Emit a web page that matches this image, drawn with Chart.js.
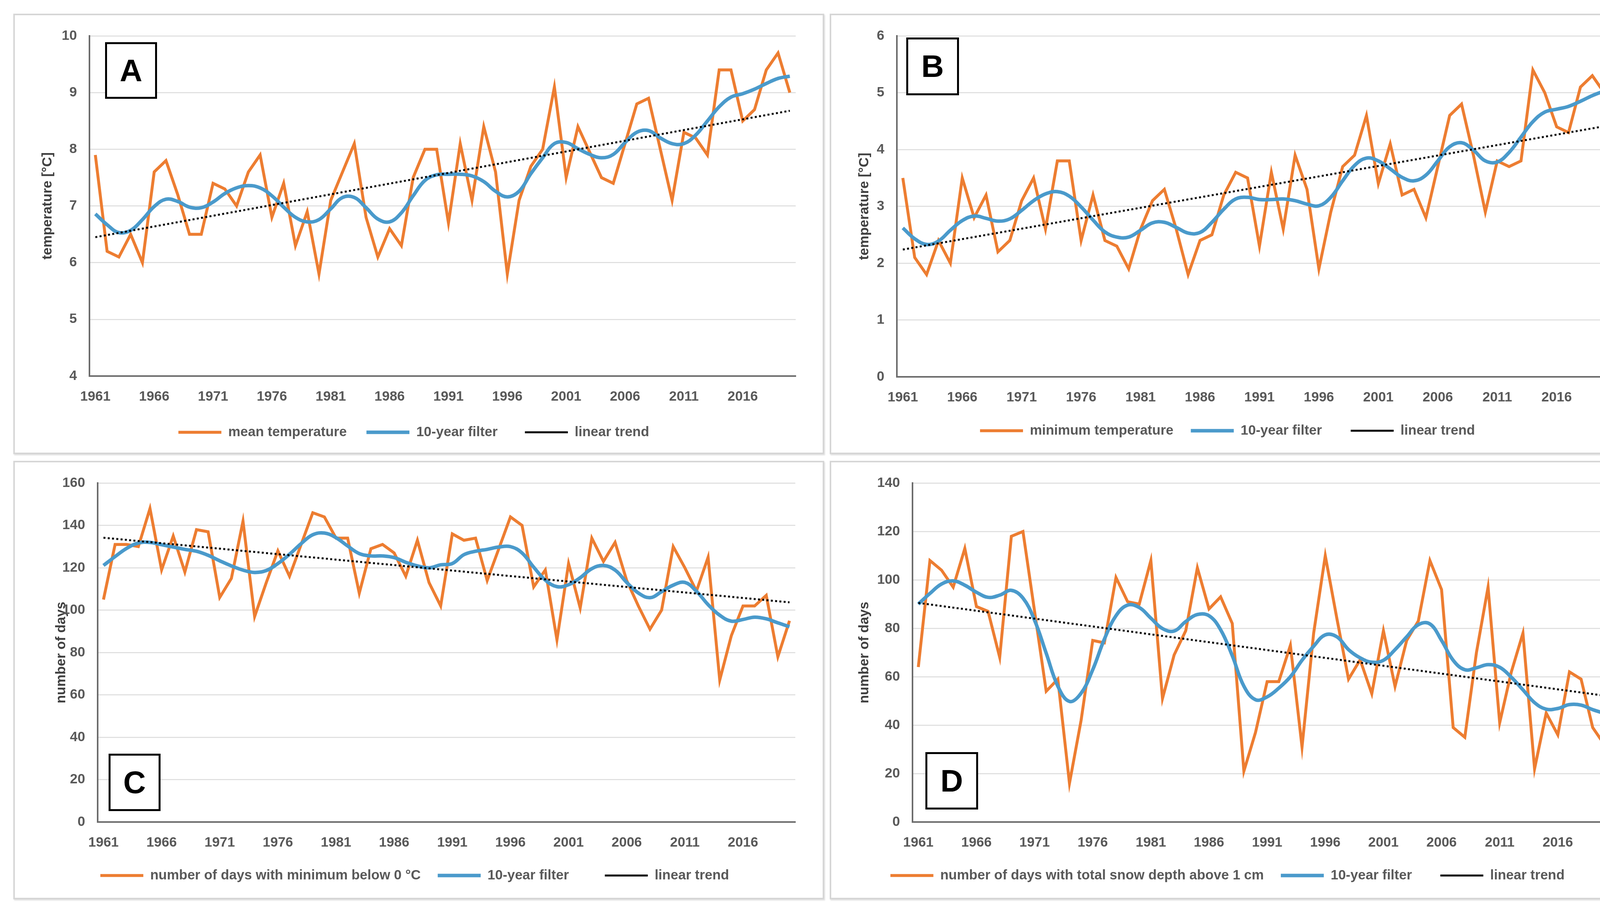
<!DOCTYPE html>
<html>
<head>
<meta charset="utf-8">
<script src="https://cdn.jsdelivr.net/npm/chart.js@4.4.1/dist/chart.umd.min.js"></script>
<style>
  html, body { margin: 0; padding: 0; background: #fff; overflow: hidden; }
  #page { position: relative; width: 4228px; height: 2338px; background: #fff; }
  .panel { position: absolute; box-sizing: border-box; border: 4px solid #d6d6d6; box-shadow: 2px 3px 3px rgba(0,0,0,0.12); }
  .panel canvas { position: absolute; left: 0; top: 0; }
  .tag { position: absolute; box-sizing: border-box; border: 5px solid #000; background: #fff;
         font: bold 80px "Liberation Sans", Arial, sans-serif; color: #000;
         display: flex; align-items: center; justify-content: center; z-index: 2; }
</style>
</head>
<body>
<div id="page"></div>
<script>
// categories and tick labels
const years = Array.from({ length: 60 }, (_, i) => String(1961 + i));
const shownYears = ['1961', '1966', '1971', '1976', '1981', '1986', '1991', '1996', '2001', '2006', '2011', '2016'];

// A - mean temperature
const meanTemp = [7.9, 6.2, 6.1, 6.5, 6.0, 7.6, 7.8, 7.2, 6.5, 6.5,
                  7.4, 7.3, 7.0, 7.6, 7.9, 6.8, 7.4, 6.3, 6.9, 5.8,
                  7.1, 7.6, 8.1, 6.8, 6.1, 6.6, 6.3, 7.5, 8.0, 8.0,
                  6.7, 8.1, 7.1, 8.4, 7.6, 5.8, 7.1, 7.7, 8.0, 9.1,
                  7.5, 8.4, 7.95, 7.5, 7.4, 8.1, 8.8, 8.9, 8.0, 7.1,
                  8.3, 8.2, 7.9, 9.4, 9.4, 8.5, 8.7, 9.4, 9.7, 9.0];
const filterA = [6.86, 6.67, 6.53, 6.57, 6.76, 6.99, 7.12, 7.08, 6.98, 6.97,
                 7.07, 7.22, 7.32, 7.36, 7.32, 7.18, 6.98, 6.80, 6.72, 6.76,
                 6.95, 7.15, 7.15, 6.97, 6.77, 6.72, 6.88, 7.18, 7.45, 7.55,
                 7.56, 7.56, 7.53, 7.43, 7.26, 7.16, 7.26, 7.57, 7.85, 8.10,
                 8.12, 8.01, 7.91, 7.85, 7.91, 8.12, 8.30, 8.33, 8.20, 8.10,
                 8.10, 8.25, 8.50, 8.75, 8.92, 8.98, 9.06, 9.16, 9.25, 9.29];
const trendA = [6.45, 8.68];

// B - minimum temperature
const minTemp = [3.5, 2.1, 1.8, 2.4, 2.0, 3.5, 2.8, 3.2, 2.2, 2.4,
                 3.1, 3.5, 2.6, 3.8, 3.8, 2.4, 3.2, 2.4, 2.3, 1.9,
                 2.6, 3.1, 3.3, 2.6, 1.8, 2.4, 2.5, 3.2, 3.6, 3.5,
                 2.3, 3.6, 2.6, 3.9, 3.3, 1.9, 2.9, 3.7, 3.9, 4.6,
                 3.4, 4.1, 3.2, 3.3, 2.8, 3.7, 4.6, 4.8, 3.9, 2.9,
                 3.8, 3.7, 3.8, 5.4, 5.0, 4.4, 4.3, 5.1, 5.3, 5.0];
const filterB = [2.62, 2.43, 2.33, 2.39, 2.58, 2.75, 2.83, 2.79, 2.74, 2.78,
                 2.93, 3.10, 3.22, 3.26, 3.18, 2.99, 2.76, 2.55, 2.46, 2.46,
                 2.58, 2.71, 2.72, 2.63, 2.53, 2.54, 2.72, 2.95, 3.13, 3.16,
                 3.12, 3.12, 3.13, 3.10, 3.04, 3.01, 3.16, 3.45, 3.72, 3.85,
                 3.80, 3.66, 3.51, 3.45, 3.55, 3.80, 4.05, 4.12, 3.99, 3.80,
                 3.78, 3.95, 4.22, 4.49, 4.66, 4.71, 4.76, 4.85, 4.95, 5.03];
const trendB = [2.24, 4.41];

// C - days with minimum below 0 °C
const frostDays = [105, 131, 131, 130, 148, 119, 135, 118, 138, 137,
                   106, 115, 142, 97, 113, 128, 116, 131, 146, 144,
                   134, 134, 108, 129, 131, 127, 116, 133, 113, 102,
                   136, 133, 134, 114, 129, 144, 140, 111, 119, 86,
                   122, 101, 134, 123, 132, 114, 102, 91, 100, 130,
                   120, 109, 125, 67, 88, 102, 102, 107, 78, 95];
const filterC = [121.1, 125.3, 129.2, 131.7, 132.0, 130.9, 129.8, 128.7, 127.8, 125.9,
                 123.3, 120.9, 118.9, 117.8, 118.7, 122.0, 126.4, 131.4, 135.6, 136.4,
                 134.2, 130.3, 126.7, 125.6, 125.6, 124.8, 122.6, 120.9, 120.0, 121.4,
                 122.0, 126.2, 127.8, 128.7, 129.8, 130.0, 127.0, 120.3, 114.2, 111.1,
                 112.0, 115.3, 119.6, 121.1, 118.9, 113.1, 108.1, 105.9, 108.7, 111.8,
                 113.1, 108.9, 102.6, 97.6, 94.8, 95.6, 96.7, 95.9, 94.0, 92.2];
const trendC = [134.2, 103.7];

// D - days with snow depth above 1 cm
const snowDays = [64, 108, 104, 97, 113, 89, 87, 68, 118, 120,
                  87, 54, 59, 16, 42, 75, 74, 101, 91, 90,
                  108, 51, 69, 79, 105, 88, 93, 82, 21, 37,
                  58, 58, 73, 31, 78, 110, 84, 59, 67, 53,
                  79, 56, 75, 83, 108, 96, 39, 35, 70, 97,
                  41, 62, 78, 22, 45, 36, 62, 59, 39, 32];
const filterD = [90.0, 94.4, 98.3, 99.6, 97.8, 94.9, 92.8, 93.7, 95.7, 92.5,
                 83.3, 69.7, 56.1, 49.8, 53.2, 62.9, 75.5, 85.2, 89.6, 88.6,
                 84.2, 79.9, 78.9, 82.8, 85.7, 85.2, 79.4, 68.7, 56.1, 50.5,
                 51.7, 55.3, 60.0, 66.8, 72.6, 77.3, 76.5, 71.2, 67.8, 66.0,
                 66.8, 71.2, 76.5, 81.5, 81.8, 75.0, 66.8, 62.9, 63.7, 65.0,
                 63.9, 59.8, 54.6, 49.3, 46.6, 46.9, 48.5, 48.3, 46.4, 44.9];
const trendD = [90.5, 52.2];

const FONT = '"Liberation Sans", Arial, sans-serif';
Chart.defaults.font.family = FONT;

// layout of the four panels (page pixels)
const panels = [
  { tag: 'A', box: [34, 35, 2110, 1163], plot: [229, 83, 2037, 963], titleX: 122, legendY: 1107, gap: 72,
    tagBox: [269, 108, 133, 145], y: [4, 10, 1], yTitle: 'temperature [°C]',
    label: 'mean temperature', values: meanTemp, filter: filterA, trend: trendA },
  { tag: 'B', box: [2124, 35, 4195, 1163], plot: [2296, 83, 4122, 965], titleX: 2213, legendY: 1103, gap: 75,
    tagBox: [2320, 96, 135, 148], y: [0, 6, 1], yTitle: 'temperature [°C]',
    label: 'minimum temperature', values: minTemp, filter: filterB, trend: trendB },
  { tag: 'C', box: [34, 1180, 2110, 2303], plot: [250, 1223, 2036, 2105], titleX: 157, legendY: 2242, gap: 88,
    tagBox: [278, 1930, 133, 147], y: [0, 160, 20], yTitle: 'number of days',
    label: 'number of days with minimum below 0 °C', values: frostDays, filter: filterC, trend: trendC },
  { tag: 'D', box: [2124, 1180, 4195, 2303], plot: [2336, 1221, 4122, 2105], titleX: 2213, legendY: 2242, gap: 75,
    tagBox: [2369, 1926, 135, 147], y: [0, 140, 20], yTitle: 'number of days',
    label: 'number of days with total snow depth above 1 cm', values: snowDays, filter: filterD, trend: trendD }
];

const page = document.getElementById('page');
const FS = 35;          // label font size
const X_AXIS_H = 76;    // room for the year labels under the axis

panels.forEach(p => {
  const [bx0, by0, bx1, by1] = p.box;
  const [px0, py0, px1, py1] = p.plot;
  const div = document.createElement('div');
  div.className = 'panel';
  Object.assign(div.style, { left: bx0 + 'px', top: by0 + 'px', width: (bx1 - bx0) + 'px', height: (by1 - by0) + 'px' });
  page.appendChild(div);

  const cx = bx0 + 4, cy = by0 + 4;
  const cw = bx1 - bx0 - 8, ch = by1 - by0 - 8;
  const canvas = document.createElement('canvas');
  canvas.width = cw; canvas.height = ch;
  canvas.style.width = cw + 'px'; canvas.style.height = ch + 'px';
  div.appendChild(canvas);

  const tag = document.createElement('div');
  tag.className = 'tag';
  tag.textContent = p.tag;
  Object.assign(tag.style, { left: p.tagBox[0] + 'px', top: p.tagBox[1] + 'px', width: p.tagBox[2] + 'px', height: p.tagBox[3] + 'px' });
  page.appendChild(tag);

  const padLeft = p.titleX - cx - 21;
  const plotBottom = py1 - cy;
  // legend: height = FS + pad + 10, text centre = top + pad + FS/2
  const legPad = (p.legendY - cy) - (plotBottom + X_AXIS_H) - FS / 2;
  const legH = FS + legPad + 10;
  const padBottom = ch - plotBottom - X_AXIS_H - legH;
  // the legend has one padding value only; widen the gap between items with no-break spaces
  const extraSpaces = '\u00a0'.repeat(Math.max(0, Math.round((p.gap - legPad) / 9.7)));

  // trend line: only first and last point, joined straight
  const trendData = years.map((_, i) => i === 0 ? p.trend[0] : (i === years.length - 1 ? p.trend[1] : null));

  new Chart(canvas, {
    type: 'line',
    data: {
      labels: years,
      datasets: [{
        label: p.label,
        data: p.values,
        borderColor: '#ED7D31',
        borderWidth: 7.5,
        pointRadius: 0,
        tension: 0,
        order: 3
      }, {
        label: '10-year filter',
        data: p.filter,
        borderColor: '#4a9acb',
        borderWidth: 9,
        pointRadius: 0,
        tension: 0.4,
        order: 2
      }, {
        label: 'linear trend',
        data: trendData,
        borderColor: '#000',
        borderWidth: 5,
        borderDash: [5, 6],
        spanGaps: true,
        pointRadius: 0,
        order: 1
      }]
    },
    options: {
      responsive: false,
      devicePixelRatio: 1,
      animation: false,
      layout: {
        padding: { left: padLeft, top: py0 - cy, right: cx + cw - px1, bottom: padBottom }
      },
      scales: {
        x: {
          offset: true,
          grid: { display: false, drawTicks: false },
          border: { display: true, color: '#6b6b6b', width: 4 },
          ticks: {
            autoSkip: false,
            maxRotation: 0,
            padding: 32,
            color: '#595959',
            font: { size: FS, weight: 'bold' },
            callback: function (val, idx) {
              return shownYears.includes(years[idx]) ? years[idx] : null;
            }
          },
          afterFit: s => { s.height = X_AXIS_H; }
        },
        y: {
          min: p.y[0],
          max: p.y[1],
          grid: { color: '#dcdcdc', lineWidth: 2.5, drawTicks: false },
          border: { display: true, color: '#6b6b6b', width: 4 },
          ticks: {
            stepSize: p.y[2],
            padding: 32,
            color: '#595959',
            font: { size: FS, weight: 'bold' }
          },
          title: {
            display: true,
            text: p.yTitle,
            color: '#404040',
            padding: 0,
            font: { size: FS, weight: 'bold' }
          },
          afterFit: s => { s.width = px0 - cx - padLeft; }
        }
      },
      plugins: {
        legend: {
          position: 'bottom',
          labels: {
            usePointStyle: true,
            pointStyle: 'line',
            pointStyleWidth: 110,
            padding: legPad,
            color: '#595959',
            font: { size: FS, weight: 'bold' },
            sort: (a, b) => a.datasetIndex - b.datasetIndex,
            generateLabels: chart => {
              const items = Chart.defaults.plugins.legend.labels.generateLabels(chart);
              items.forEach((it, i) => { if (i < items.length - 1) it.text += extraSpaces; });
              return items;
            }
          }
        },
        tooltip: { enabled: false }
      }
    }
  });
});
</script>
</body>
</html>
